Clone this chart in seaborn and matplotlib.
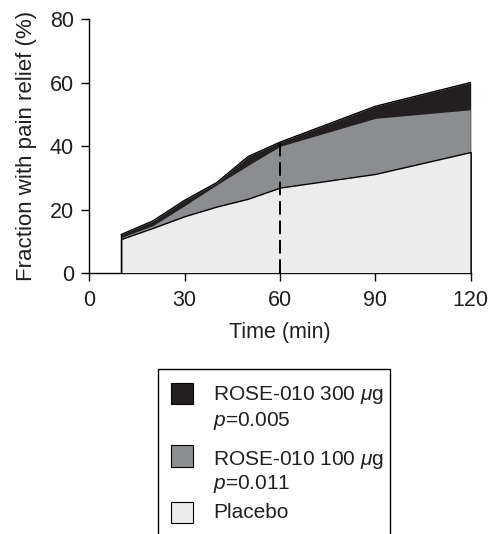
import matplotlib
matplotlib.use("Agg")
import matplotlib.pyplot as plt
from matplotlib.patches import Rectangle
import numpy as np
import pandas as pd
import seaborn as sns

# Time after dosing (min) and cumulative fraction with pain relief (%)
time_min = [10, 20, 30, 40, 50, 60, 90, 120]
placebo = [10.8, 14.3, 18.0, 21.0, 23.5, 27.0, 31.3, 38.2]
rose_100 = [11.3, 15.0, 21.3, 27.8, 34.0, 40.0, 48.8, 51.5]
rose_300 = [12.2, 16.5, 23.0, 28.5, 36.8, 41.3, 52.6, 60.1]

x_ticks = [0, 30, 60, 90, 120]
y_ticks = [0, 20, 40, 60, 80]
marker_time = 60

legend_labels = ["ROSE-010 300 $\\mu$g\n$p$=0.005",
                 "ROSE-010 100 $\\mu$g\n$p$=0.011",
                 "Placebo"]
colors = ["#231f20", "#8c8d90", "#ececec"]
ink = "#231f20"

sns.set_theme(style="ticks")
plt.rcParams["font.family"] = ["Liberation Sans", "DejaVu Sans"]
plt.rcParams["mathtext.fontset"] = "custom"
plt.rcParams["mathtext.rm"] = "Liberation Sans"
plt.rcParams["mathtext.it"] = "Liberation Sans:italic"
plt.rcParams["text.color"] = ink
plt.rcParams["axes.labelcolor"] = ink
plt.rcParams["xtick.color"] = ink
plt.rcParams["ytick.color"] = ink

df = pd.DataFrame({"time": time_min, "placebo": placebo,
                   "r100": rose_100, "r300": rose_300})

W, H = 489, 534
fig = plt.figure(figsize=(W / 100, H / 100), dpi=100)
ax = fig.add_axes([89.3 / W, 1 - 273.3 / H, 381.4 / W, 254 / H])

# areas drawn from zero upward, highest first
ax.fill_between(df["time"], 0, df["r300"], color=colors[0], lw=0, zorder=1)
ax.fill_between(df["time"], 0, df["r100"], color=colors[1], lw=0, zorder=2)
ax.fill_between(df["time"], 0, df["placebo"], facecolor=colors[2],
                edgecolor="black", lw=1.0, zorder=3)
sns.lineplot(data=df, x="time", y="r300", color="black", lw=1.0, ax=ax, zorder=4)
ax.plot([time_min[0]] * 2, [0, rose_300[0]], color="black", lw=1.0, zorder=4)
ax.plot([time_min[-1]] * 2, [0, rose_300[-1]], color="black", lw=1.0, zorder=4)

# reference line at the primary time point
top_at_marker = rose_300[time_min.index(marker_time)]
ax.plot([marker_time, marker_time], [0, top_at_marker], color="black",
        lw=1.4, ls=(0, (7, 3)), zorder=5)

ax.set_xlim(0, 120)
ax.set_ylim(0, 80)
ax.set_xticks(x_ticks)
ax.set_yticks(y_ticks)
ax.set_xlabel("Time (min)", fontsize=15.5, labelpad=8)
ax.set_ylabel("Fraction with pain relief (%)", fontsize=16, labelpad=9)
ax.tick_params(labelsize=15.5, length=6, width=1, color="black")
ax.tick_params(axis="y", pad=5)
ax.tick_params(axis="x", pad=6)
ax.margins(0)
sns.despine(ax=ax)
for s in ("left", "bottom"):
    ax.spines[s].set_linewidth(1.0)
    ax.spines[s].set_color("black")
    ax.spines[s].set_clip_on(False)

# legend box below the plot
box = Rectangle((158 / W, 1 - 540 / H), (390 - 158) / W, (540 - 369) / H,
                transform=fig.transFigure, facecolor="white",
                edgecolor="black", lw=1.0, clip_on=False)
fig.patches.append(box)
handle_top = [382.7, 445, 501.7]
text_y = [[395, 421], [460, 484], [513]]
for lab, col, hy, ty in zip(legend_labels, colors, handle_top, text_y):
    fig.patches.append(Rectangle((171 / W, 1 - (hy + 21.5) / H), 22 / W, 21.5 / H,
                                 transform=fig.transFigure, facecolor=col,
                                 edgecolor="black", lw=0.8))
    for line, yy in zip(lab.split("\n"), ty):
        fig.text(213 / W, 1 - yy / H, line, fontsize=15, va="center",
                 ha="left", color=ink)

fig.savefig("out.png", dpi=100)
